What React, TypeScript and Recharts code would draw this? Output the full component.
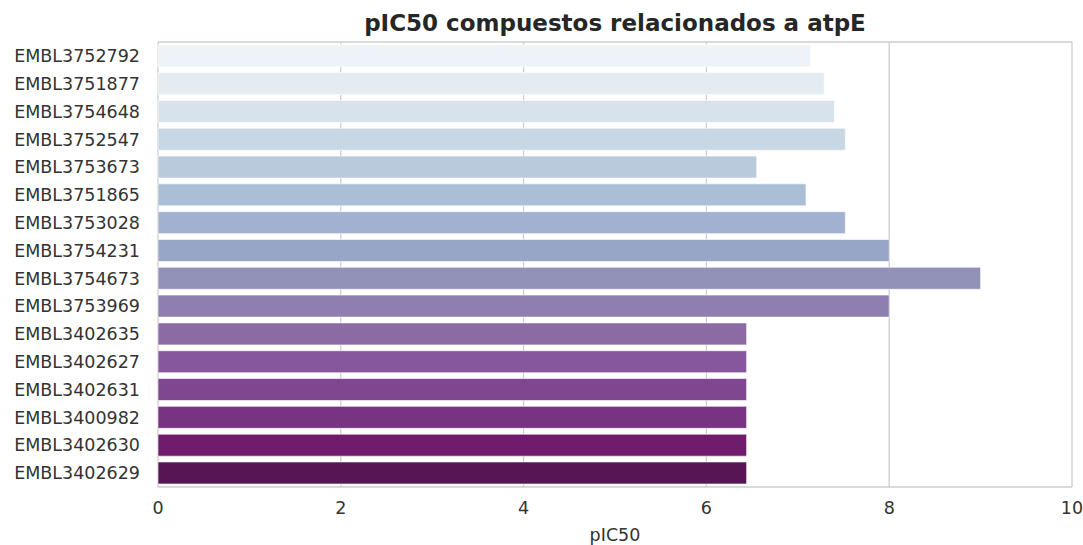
import { BarChart, Bar, XAxis, YAxis, CartesianGrid, Cell } from "recharts";

const compounds = [
  "EMBL3752792",
  "EMBL3751877",
  "EMBL3754648",
  "EMBL3752547",
  "EMBL3753673",
  "EMBL3751865",
  "EMBL3753028",
  "EMBL3754231",
  "EMBL3754673",
  "EMBL3753969",
  "EMBL3402635",
  "EMBL3402627",
  "EMBL3402631",
  "EMBL3400982",
  "EMBL3402630",
  "EMBL3402629",
];

const pic50 = [7.14, 7.29, 7.4, 7.52, 6.55, 7.09, 7.52, 8.0, 9.0, 8.0, 6.44, 6.44, 6.44, 6.44, 6.44, 6.44];

const xTicks = [0, 2, 4, 6, 8, 10];

// BuPu-like palette, light to dark
const palette = [
  "#edf3f8",
  "#e4ecf3",
  "#d8e2ec",
  "#c7d7e4",
  "#b9cadd",
  "#aabfd6",
  "#a1b1cf",
  "#97a5c6",
  "#9292b9",
  "#8f7eb0",
  "#8c6ba5",
  "#87579d",
  "#804791",
  "#783382",
  "#6e1c6b",
  "#571555",
];

const chartData = compounds.map((name, i) => ({ name, value: pic50[i] }));

const W = 1083;
const H = 545;
const PLOT_TOP = 42;
const PLOT_BOTTOM = 487;
const FONT = "DejaVu Sans, sans-serif";

export default function App() {
  return (
    <div style={{ position: "absolute", left: 0, top: 0, width: W, height: H, background: "#fff" }}>
      <BarChart
        width={W}
        height={H}
        data={chartData}
        layout="vertical"
        margin={{ top: PLOT_TOP, right: 11, bottom: 0, left: 8 }}
        barCategoryGap="10%"
      >
        <text
          x={615}
          y={31}
          textAnchor="middle"
          style={{ fontFamily: FONT, fontWeight: "bold", fontSize: 23, fill: "#262626" }}
        >
          pIC50 compuestos relacionados a atpE
        </text>
        <text
          x={615}
          y={541}
          textAnchor="middle"
          style={{ fontFamily: FONT, fontSize: 17.5, fill: "#333333" }}
        >
          pIC50
        </text>
        <CartesianGrid
          stroke="#cccccc"
          strokeWidth={1.3}
          horizontalPoints={[PLOT_TOP, PLOT_BOTTOM]}
        />
        <XAxis
          type="number"
          domain={[0, 10]}
          ticks={xTicks}
          axisLine={false}
          tickLine={false}
          tickMargin={9}
          height={58}
          tick={{ fontFamily: FONT, fontSize: 17.5, fill: "#333333" }}
        />
        <YAxis
          type="category"
          dataKey="name"
          width={150}
          axisLine={false}
          tickLine={false}
          tickMargin={12}
          tick={{ fontFamily: FONT, fontSize: 17.5, fill: "#333333" }}
        />
        <Bar dataKey="value" isAnimationActive={false} stroke="#ffffff" strokeWidth={0.6}>
          {chartData.map((d, i) => (
            <Cell key={d.name} fill={palette[i]} />
          ))}
        </Bar>
      </BarChart>
    </div>
  );
}
